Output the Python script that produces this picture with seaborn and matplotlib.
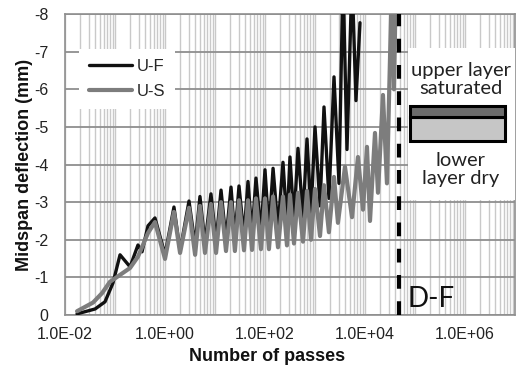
import numpy as np
import pandas as pd
import matplotlib
matplotlib.use("Agg")
import matplotlib.pyplot as plt
import seaborn as sns
from matplotlib.ticker import FixedLocator, LogLocator, NullFormatter
from matplotlib.patches import Rectangle
from matplotlib.lines import Line2D

# ---- data ----
uf_passes = [0.0174, 0.040, 0.063, 0.091, 0.126, 0.20, 0.288, 0.347, 0.457, 0.63,
             1.0, 1.51, 2.0, 3.02, 4.0, 5.0, 6.3, 8.3, 10.5, 13.2, 16.6, 20.9, 25,
             30.2, 38, 45.7, 55, 66, 83, 100, 120, 145, 182, 229, 275, 316, 380,
             457, 575, 692, 832, 1000, 1260, 1514, 1900, 2400, 3020, 3630, 4365,
             5500, 6600, 7940]
uf_defl = [-0.03, -0.16, -0.35, -0.85, -1.6, -1.28, -1.86, -1.68, -2.37, -2.58,
           -1.6, -2.87, -1.7, -3.03, -1.85, -3.15, -1.9, -3.22, -1.95, -3.32, -2.0,
           -3.40, -2.05, -3.43, -2.1, -3.55, -2.15, -3.64, -2.2, -3.86, -2.25, -3.9,
           -2.3, -4.06, -2.4, -4.2, -2.5, -4.43, -2.6, -4.68, -2.7, -5.0, -2.9,
           -5.53, -3.1, -6.33, -3.5, -9, -4.4, -9, -5.7, -7.77]

us_passes = [0.0174, 0.0363, 0.055, 0.079, 0.2, 0.288, 0.457, 0.63, 1.0, 1.51,
             2.0, 3.02, 4.0, 5.0, 6.3, 8.3, 10.5, 13.2, 16.6, 20.9, 25, 30.2, 38,
             45.7, 55, 66, 83, 100, 120, 145, 182, 229, 275, 316, 380, 457, 575,
             692, 832, 1000, 1260, 1514, 1900, 2400, 2880, 3980, 5500, 7240, 9120,
             10960, 12600, 15850, 18200, 22900, 27500, 34700, 38000, 41700]
us_defl = [-0.1, -0.33, -0.58, -0.88, -1.25, -1.55, -2.18, -2.47, -1.49, -2.74,
           -1.65, -2.85, -1.6, -2.9, -1.65, -2.95, -1.65, -3.0, -1.7, -3.0, -1.7,
           -3.05, -1.72, -3.05, -1.73, -3.1, -1.75, -3.1, -1.75, -3.15, -1.8, -3.15,
           -1.85, -3.2, -1.9, -3.25, -1.95, -3.3, -2.0, -3.35, -2.1, -3.45, -2.2,
           -3.67, -2.45, -3.94, -2.6, -4.2, -2.8, -4.47, -2.5, -4.84, -3.25, -5.85,
           -3.5, -9, -6.0, -9]

series_names = ["U-F", "U-S"]
df_failure_passes = 4.8e4
df_label = "D-F"
x_tick_values = [1e-2, 1e0, 1e2, 1e4, 1e6]
x_tick_labels = ["1.0E-02", "1.0E+00", "1.0E+02", "1.0E+04", "1.0E+06"]
y_tick_values = [0, -1, -2, -3, -4, -5, -6, -7, -8]
inset_top_text = "upper layer\nsaturated"
inset_bottom_text = "lower\nlayer dry"

# ---- styling ----
sns.set_theme(style="white")
plt.rcParams['font.family'] = ['Liberation Sans', 'DejaVu Sans']

fig = plt.figure(figsize=(5.16, 3.71), dpi=100)
ax = fig.add_axes([0.126, 0.151, 0.872, 0.811])

df_uf = pd.DataFrame({"passes": uf_passes, "defl": uf_defl, "series": series_names[0]})
df_us = pd.DataFrame({"passes": us_passes, "defl": us_defl, "series": series_names[1]})

black = "#111111"
gray = "#7d7d7d"
lw_black = 2.4
lw_gray = 3.0
sns.lineplot(data=df_uf, x="passes", y="defl", color=black, linewidth=lw_black,
             estimator=None, sort=False, ax=ax, legend=False, zorder=3)
sns.lineplot(data=df_us, x="passes", y="defl", color=gray, linewidth=lw_gray,
             estimator=None, sort=False, ax=ax, legend=False, zorder=3.1)

ax.set_xscale("log")
ax.set_xlim(1e-2, 1e7)
ax.set_ylim(0, -8)

ax.xaxis.set_major_locator(FixedLocator(x_tick_values))
ax.set_xticklabels(x_tick_labels)
ax.xaxis.set_minor_locator(LogLocator(base=10, subs=np.arange(1, 10), numticks=200))
ax.xaxis.set_minor_formatter(NullFormatter())
ax.set_yticks(y_tick_values)
ax.set_yticklabels([str(v) for v in y_tick_values])

ax.set_axisbelow(True)
ax.grid(which="both", axis="x", color="#c9c9c9", linewidth=1.0)
ax.grid(which="major", axis="y", color="#8f8f8f", linewidth=1.3)
ax.tick_params(axis="both", which="both", length=0)
ax.tick_params(axis="x", labelsize=11.5, pad=9, labelcolor="#222222")
ax.tick_params(axis="y", labelsize=11.5, pad=12, labelcolor="#222222")
for s in ax.spines.values():
    s.set_color("#8f8f8f")
    s.set_linewidth(1.2)

ax.set_xlabel("Number of passes", fontsize=13, fontweight="bold", color="#111111")
ax.set_ylabel("Midspan deflection (mm)", fontsize=13, fontweight="bold", color="#111111")
ax.xaxis.set_label_coords(0.45, -0.11)
ax.yaxis.set_label_coords(-0.072, 0.5)

# dashed failure line
ax.axvline(df_failure_passes, color="black", linewidth=3.0,
           linestyle=(0, (3.3, 3.0)), zorder=4)
ax.text(7.2e4, -0.2, df_label, fontsize=20, family=["Lato", "DejaVu Sans"],
        color="#111111", ha="left", va="baseline", zorder=5)

# legend
handles = [Line2D([0], [0], color=black, lw=lw_black), Line2D([0], [0], color=gray, lw=lw_gray)]
leg = ax.legend(handles, series_names, loc="upper left", bbox_to_anchor=(0.03, 0.885),
                fontsize=12, handlelength=2.6, handletextpad=0.3, frameon=True,
                framealpha=1, facecolor="white", edgecolor="none", fancybox=False,
                borderpad=0.6, labelspacing=0.6, borderaxespad=0)
leg.set_zorder(6)

# inset box on the right
ax.add_patch(Rectangle((0.762, 0.382), 0.238, 0.505, transform=ax.transAxes,
                       facecolor="white", edgecolor="none", zorder=6))
ax.text(0.879, 0.783, inset_top_text, transform=ax.transAxes, ha="center", va="center",
        fontsize=14.5, family=["Lato", "DejaVu Sans"], color="#222222",
        linespacing=1.1, zorder=7)
ax.add_patch(Rectangle((0.766, 0.577), 0.212, 0.081, transform=ax.transAxes,
                       facecolor="#c6c6c6", edgecolor="black", linewidth=2.2, zorder=7))
ax.add_patch(Rectangle((0.766, 0.658), 0.212, 0.038, transform=ax.transAxes,
                       facecolor="#6b6b6b", edgecolor="black", linewidth=2.2, zorder=7))
ax.text(0.879, 0.484, inset_bottom_text, transform=ax.transAxes, ha="center", va="center",
        fontsize=14.5, family=["Lato", "DejaVu Sans"], color="#222222",
        linespacing=1.1, zorder=7)

fig.savefig("out.png", dpi=100)
